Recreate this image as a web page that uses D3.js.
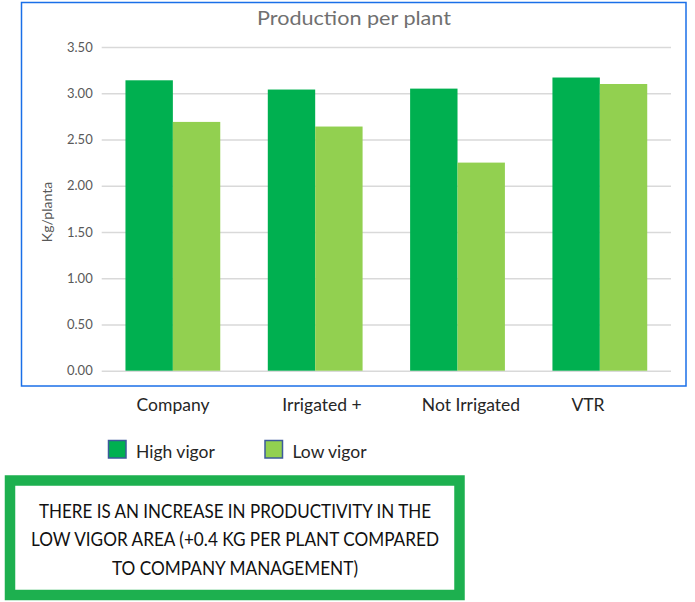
<!DOCTYPE html>
<html><head><meta charset="utf-8">
<script src="https://cdn.jsdelivr.net/npm/d3@7"></script>
<style>body{margin:0;background:#fff}svg{display:block}text{font-family:Lato,"Noto Sans",sans-serif}</style>
</head><body>
<svg id="c" width="695" height="602"></svg>
<script>
const categories = ["Company", "Irrigated +", "Not Irrigated", "VTR"];
const seriesNames = ["High vigor", "Low vigor"];
const highVigor = [3.14, 3.04, 3.05, 3.17];
const lowVigor = [2.69, 2.64, 2.25, 3.10];
const yTicks = [0, 0.5, 1, 1.5, 2, 2.5, 3, 3.5];
const colors = ["#00b050", "#92d050"];
const labelX = [173, 322, 471, 588];
const noteLines = ["THERE IS AN INCREASE IN PRODUCTIVITY IN THE", "LOW VIGOR AREA (+0.4 KG PER PLANT COMPARED", "TO COMPANY MANAGEMENT)"];

const svg = d3.select("#c");
const pLeft = 101.7, pRight = 671, pTop = 47, pBottom = 370.7;

svg.append("rect").attr("x", 21.5).attr("y", 2.5).attr("width", 664.5).attr("height", 383.5)
  .attr("fill", "#fff").attr("stroke", "#1a6fe8").attr("stroke-width", 1.5);

svg.append("text").attr("x", 354).attr("y", 25).attr("text-anchor", "middle")
  .attr("font-size", 19).attr("fill", "#707070").attr("textLength", 194).attr("lengthAdjust", "spacingAndGlyphs")
  .text("Production per plant");

const y = d3.scaleLinear().domain([0, 3.5]).range([pBottom, pTop]);
const x0 = d3.scaleBand().domain(categories).range([pLeft, pRight]).paddingInner(0.334).paddingOuter(0.167);
const x1 = d3.scaleBand().domain(seriesNames).range([0, x0.bandwidth()]);

const yAxis = svg.append("g").attr("transform", `translate(${pLeft},0)`)
  .call(d3.axisLeft(y).tickValues(yTicks).tickFormat(d3.format(".2f")).tickSize(-(pRight - pLeft)).tickPadding(9));
yAxis.select(".domain").remove();
yAxis.selectAll(".tick line").attr("stroke", "#d9d9d9").attr("stroke-width", 1.5);
yAxis.selectAll(".tick text").attr("fill", "#595959").attr("font-size", 13).attr("font-family", "Lato,sans-serif");

svg.append("text").attr("transform", "translate(52,212) rotate(-90)").attr("text-anchor", "middle")
  .attr("font-size", 14).attr("fill", "#595959").text("Kg/planta");

const rows = categories.map((c, i) => ({c, vals: [highVigor[i], lowVigor[i]]}));
const g = svg.append("g");
rows.forEach(r => {
  r.vals.forEach((v, j) => {
    g.append("rect").attr("x", x0(r.c) + x1(seriesNames[j])).attr("y", y(v))
      .attr("width", x1.bandwidth()).attr("height", y(0) - y(v)).attr("fill", colors[j]);
  });
});

categories.forEach((c, i) => {
  svg.append("text").attr("x", labelX[i]).attr("y", 411).attr("text-anchor", "middle")
    .attr("font-size", 17.5).attr("fill", "#262626").text(c);
});

const legX = [108.5, 265];
seriesNames.forEach((s, i) => {
  svg.append("rect").attr("x", legX[i]).attr("y", 440.5).attr("width", 17.5).attr("height", 17.5)
    .attr("fill", colors[i]).attr("stroke", "#3c5a9a").attr("stroke-width", 1.5);
  svg.append("text").attr("x", legX[i] + 27.5).attr("y", 458).attr("font-size", 17.5).attr("fill", "#262626").text(s);
});

svg.append("rect").attr("x", 10).attr("y", 480.5).attr("width", 449.5).attr("height", 114.5)
  .attr("fill", "#fff").attr("stroke", "#1db04f").attr("stroke-width", 10.5);
const noteW = [392, 408, 246];
noteLines.forEach((t, i) => {
  svg.append("text").attr("x", 235).attr("y", 518 + i * 28.3).attr("text-anchor", "middle")
    .attr("font-size", 19.5).attr("fill", "#111").attr("textLength", noteW[i]).attr("lengthAdjust", "spacingAndGlyphs").text(t);
});
</script>
</body></html>
